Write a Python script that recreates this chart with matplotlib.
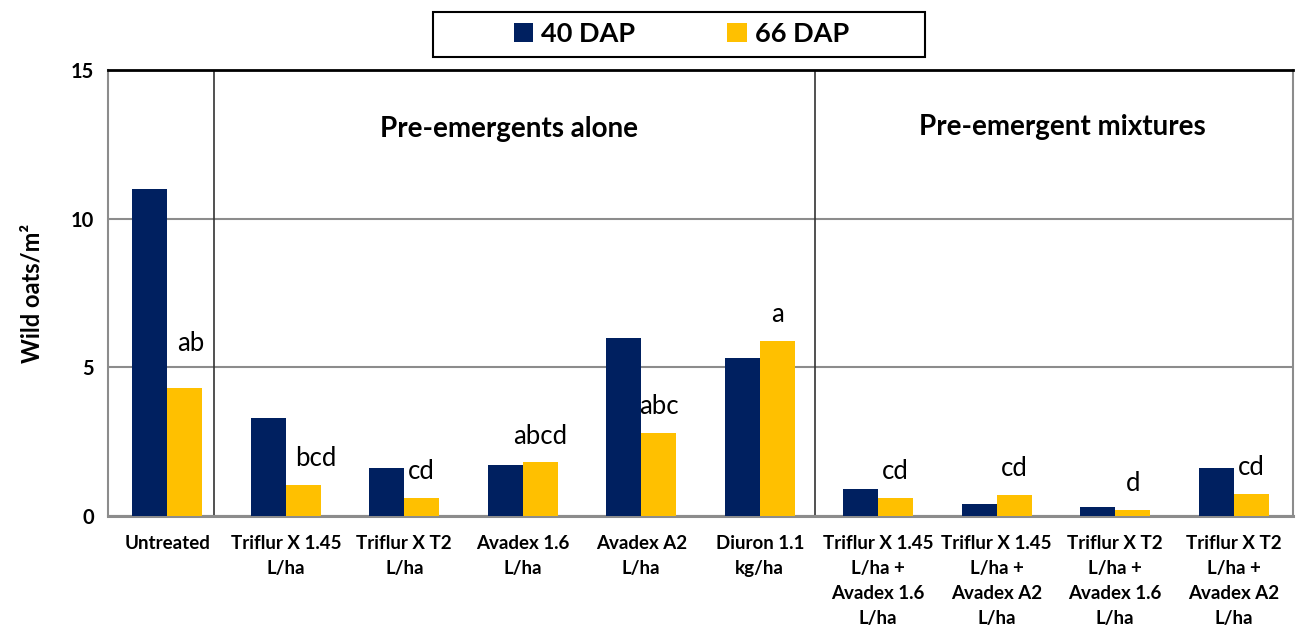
import numpy as np
import matplotlib
matplotlib.use("Agg")
import matplotlib.pyplot as plt
from matplotlib.patches import Rectangle

plt.rcParams['font.family'] = ['Lato', 'DejaVu Sans']

treatments = ["Untreated", "Triflur X 1.45\nL/ha", "Triflur X T2\nL/ha", "Avadex 1.6\nL/ha",
              "Avadex A2\nL/ha", "Diuron 1.1\nkg/ha",
              "Triflur X 1.45\nL/ha +\nAvadex 1.6\nL/ha", "Triflur X 1.45\nL/ha +\nAvadex A2\nL/ha",
              "Triflur X T2\nL/ha +\nAvadex 1.6\nL/ha", "Triflur X T2\nL/ha +\nAvadex A2\nL/ha"]
dap40 = [11.0, 3.3, 1.6, 1.7, 6.0, 5.3, 0.9, 0.4, 0.3, 1.6]
dap66 = [4.3, 1.05, 0.6, 1.8, 2.8, 5.9, 0.6, 0.7, 0.2, 0.75]
letters = ["ab", "bcd", "cd", "abcd", "abc", "a", "cd", "cd", "d", "cd"]
groups = ["Pre-emergents alone", "Pre-emergent mixtures"]
yticks = [0, 5, 10, 15]

navy = "#002060"
gold = "#FFC000"

fig = plt.figure(figsize=(13.03, 6.31), dpi=100)
ax = fig.add_axes([0.0829, 0.1823, 0.9094, 0.7067])

x = np.arange(len(treatments))
w = 0.295
ax.bar(x - w / 2, dap40, w, color=navy, label="40 DAP", zorder=3)
ax.bar(x + w / 2, dap66, w, color=gold, label="66 DAP", zorder=3)

offs = [26.5] + [13.5] * (len(letters) - 1)
dx = [4, 9, 0, 0, 0, 0, 0, 0, 0, 0]
for xi, v, lab, o, d in zip(x, dap66, letters, offs, dx):
    ax.annotate(lab, (xi + w / 2, v), xytext=(d, o), textcoords="offset points",
                ha="center", va="baseline", fontsize=18.5)

ax.set_xlim(-0.5, len(treatments) - 0.5)
ax.set_ylim(0, 15)
ax.set_yticks(yticks)
ax.set_xticks(x)
ax.set_xticklabels(treatments, fontweight="bold", fontsize=13.5, linespacing=1.55)
ax.tick_params(axis="both", length=0)
ax.tick_params(axis="x", pad=14)
ax.tick_params(axis="y", pad=10)
for t in ax.get_yticklabels():
    t.set_fontweight("bold")
    t.set_fontsize(14.5)
ax.set_ylabel("Wild oats/m²", fontweight="bold", fontsize=17, labelpad=20)

ax.yaxis.grid(True, color="#8c8c8c", lw=1.5, zorder=1)
ax.set_axisbelow(True)
for s in ["left", "bottom", "right"]:
    ax.spines[s].set_color("#8c8c8c")
    ax.spines[s].set_linewidth(1.5)
ax.spines["bottom"].set_linewidth(2.2)
ax.spines["top"].set_color("black")
ax.spines["top"].set_linewidth(2)

for sx in [0.394, 5.466]:
    ax.axvline(sx, color="#333333", lw=1.2, zorder=2)

ax.text(2.88, 13.0, groups[0], ha="center", va="center", fontsize=20, fontweight="bold")
ax.text(7.55, 13.1, groups[1], ha="center", va="center", fontsize=20, fontweight="bold")

fig.patches.append(Rectangle((433 / 1303, 1 - 57 / 631), 492 / 1303, 45 / 631,
                             transform=fig.transFigure, fill=False, ec="black", lw=1.5))
fig.legend(loc="center", bbox_to_anchor=(0.523, 0.946), ncol=2, frameon=False,
           prop={"weight": "bold", "size": 19.5}, handlelength=0.72, handleheight=0.72,
           handletextpad=0.3, columnspacing=3.4)

fig.savefig("out.png", dpi=100)
